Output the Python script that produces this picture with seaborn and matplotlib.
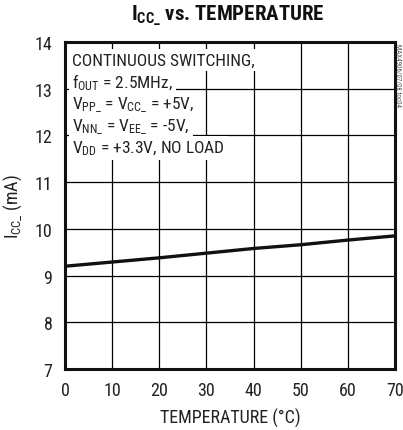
import matplotlib
matplotlib.use("Agg")
import matplotlib.pyplot as plt
import seaborn as sns
import pandas as pd

temperature = [0, 10, 20, 30, 40, 50, 60, 70]
icc_ma = [9.20, 9.29, 9.38, 9.48, 9.58, 9.66, 9.76, 9.85]
x_ticks = [0, 10, 20, 30, 40, 50, 60, 70]
y_ticks = [7, 8, 9, 10, 11, 12, 13, 14]
note_lines = [
    "CONTINUOUS SWITCHING,",
    r"f$_{\mathrm{OUT}}$ = 2.5MHz,",
    r"V$_{\mathrm{PP\_}}$ = V$_{\mathrm{CC\_}}$ = +5V,",
    r"V$_{\mathrm{NN\_}}$ = V$_{\mathrm{EE\_}}$ = -5V,",
    r"V$_{\mathrm{DD}}$ = +3.3V, NO LOAD",
]

sns.set_theme(style="white")
FONT = "Roboto Condensed"
plt.rcParams["font.family"] = [FONT, "DejaVu Sans"]
plt.rcParams["mathtext.fontset"] = "custom"
plt.rcParams["mathtext.rm"] = FONT
plt.rcParams["mathtext.it"] = FONT + ":italic"
plt.rcParams["mathtext.bf"] = FONT + ":bold"

df = pd.DataFrame({"T": temperature, "I": icc_ma})

fig = plt.figure(figsize=(4.03, 4.31), dpi=100)
ax = fig.add_axes([65 / 403, 1 - 370 / 431, 330 / 403, 327 / 431])

ax.set_xlim(0, 70)
ax.set_ylim(7, 14)
ax.set_xticks(x_ticks)
ax.set_yticks(y_ticks)
ax.grid(True, color="black", linewidth=0.9)
ax.set_axisbelow(True)

sns.lineplot(data=df, x="T", y="I", ax=ax, color="#111111", linewidth=2.4, zorder=3)

for s in ax.spines.values():
    s.set_color("#111111")
    s.set_linewidth(2.2)

ax.tick_params(axis="both", length=0, labelsize=13, colors="#222222", pad=9)
ax.set_xlabel("TEMPERATURE (°C)", fontsize=13, color="#222222", labelpad=6)
ax.set_ylabel(r"I$_{\mathrm{CC\_}}$ (mA)", fontsize=13, color="#222222", labelpad=8)

fig.text(228 / 403, 1 - 16 / 431, r"I$_{\mathbf{CC\_}}$ vs. TEMPERATURE",
         ha="center", va="center", fontsize=15, fontweight="bold", color="#111111")

y0 = 1 - (61 - 43) / 327
step = 22 / 327
for i, line in enumerate(note_lines):
    ax.text(0.022, y0 - i * step, line, transform=ax.transAxes, ha="left", va="center",
            fontsize=12.5, color="#222222", zorder=4,
            bbox=dict(boxstyle="square,pad=0.18", facecolor="white", edgecolor="none"))

fig.text(398 / 403, 1 - 75 / 431, "MAX4906/07/08 toc04", rotation=270, ha="center",
         va="center", fontsize=5, color="#555555")

fig.savefig("out.png", dpi=100)
